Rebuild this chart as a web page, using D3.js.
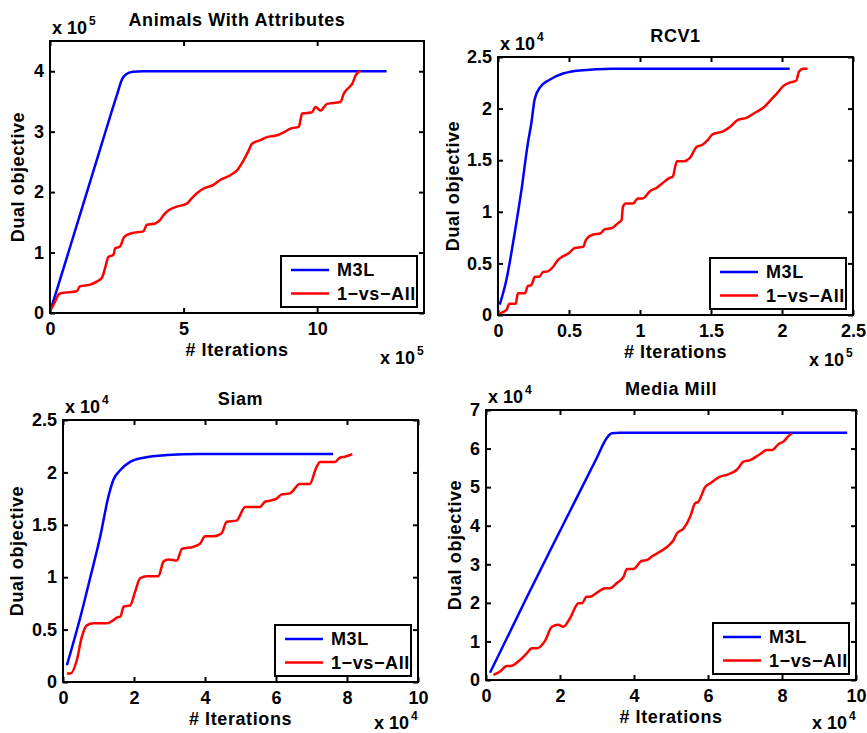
<!DOCTYPE html>
<html>
<head>
<meta charset="utf-8">
<script src="https://cdn.jsdelivr.net/npm/d3@7"></script>
<style>
  body { margin: 0; background: #fff; }
  svg text { font-family: "Liberation Sans", Arial, Helvetica, sans-serif; font-weight: bold; fill: #000; }
  .wide { letter-spacing: 0.6px; }
</style>
</head>
<body>
<svg width="867" height="733"></svg>
<script>
// ---- data: [x, y] pairs, x and y in axis units (before the "x 10^n" factor) ----
var seriesNames = ["M3L", "1\u2212vs\u2212All"];

var awaM3L = [[0,0.02],[0.5,0.73],[1,1.45],[1.5,2.17],[2,2.89],[2.5,3.6],[2.7,3.87],[2.85,3.95],[3.1,3.99],[3.5,4.0],[12.6,4.0]];
var awaOva = [[0,0.03],[0.19,0.19],[0.31,0.30],[0.44,0.33],[1.0,0.36],[1.12,0.44],[1.5,0.47],[1.75,0.52],[1.94,0.58],[2.06,0.74],
  [2.19,0.93],[2.37,0.96],[2.44,1.07],[2.62,1.10],[2.78,1.26],[3.06,1.32],[3.5,1.35],[3.62,1.46],[3.94,1.48],[4.12,1.54],
  [4.25,1.62],[4.44,1.70],[4.75,1.76],[5.12,1.81],[5.31,1.90],[5.5,1.98],[5.75,2.06],[6.12,2.12],[6.37,2.20],[6.75,2.28],
  [7.0,2.36],[7.25,2.53],[7.44,2.69],[7.56,2.80],[7.87,2.86],[8.12,2.91],[8.5,2.94],[8.75,2.99],[9.0,3.05],[9.31,3.08],
  [9.44,3.30],[9.81,3.32],[9.94,3.41],[10.12,3.35],[10.37,3.46],[10.87,3.49],[11.0,3.63],[11.19,3.73],[11.31,3.79],[11.44,3.93],[11.62,4.01]];

var rcvM3L = [[0.012,0.10],[0.059,0.34],[0.117,0.79],[0.164,1.2],[0.211,1.67],[0.235,1.86],[0.258,2.09],[0.293,2.2],[0.364,2.28],
  [0.458,2.34],[0.575,2.37],[0.81,2.385],[2.054,2.385]];
var rcvOva = [[0.012,0.016],[0.06,0.05],[0.08,0.11],[0.125,0.11],[0.14,0.21],[0.19,0.21],[0.21,0.28],[0.235,0.29],[0.26,0.37],
  [0.29,0.37],[0.32,0.42],[0.34,0.42],[0.39,0.47],[0.42,0.53],[0.46,0.57],[0.50,0.60],[0.54,0.65],[0.60,0.66],[0.62,0.73],
  [0.67,0.78],[0.72,0.79],[0.75,0.83],[0.80,0.84],[0.845,0.89],[0.87,0.92],[0.88,1.05],[0.90,1.08],[0.95,1.08],[0.985,1.13],
  [1.02,1.13],[1.07,1.20],[1.115,1.23],[1.16,1.28],[1.21,1.33],[1.23,1.34],[1.26,1.49],[1.31,1.49],[1.35,1.52],[1.40,1.63],
  [1.44,1.65],[1.48,1.70],[1.51,1.75],[1.585,1.78],[1.64,1.83],[1.69,1.89],[1.75,1.91],[1.81,1.96],[1.87,2.01],[1.925,2.09],
  [1.96,2.14],[2.01,2.22],[2.05,2.25],[2.10,2.27],[2.12,2.36],[2.15,2.385],[2.18,2.385]];

var siamM3L = [[0.11,0.16],[0.49,0.62],[0.77,1.0],[1.05,1.39],[1.28,1.77],[1.42,1.93],[1.61,2.02],[1.89,2.10],[2.27,2.14],
  [2.92,2.165],[3.86,2.175],[7.61,2.175]];
var siamOva = [[0.11,0.08],[0.21,0.08],[0.39,0.21],[0.53,0.43],[0.67,0.54],[0.86,0.56],[1.24,0.56],[1.42,0.59],[1.56,0.62],
  [1.61,0.62],[1.71,0.72],[1.89,0.73],[2.03,0.86],[2.17,0.99],[2.36,1.01],[2.69,1.01],[2.83,1.15],[2.97,1.17],[3.21,1.16],
  [3.35,1.27],[3.67,1.29],[3.86,1.32],[4.0,1.39],[4.24,1.39],[4.47,1.42],[4.61,1.53],[4.89,1.54],[5.13,1.67],[5.55,1.67],
  [5.69,1.72],[5.83,1.73],[6.02,1.75],[6.16,1.79],[6.39,1.80],[6.67,1.89],[6.95,1.89],[7.14,2.05],[7.24,2.10],[7.66,2.10],
  [7.80,2.14],[7.94,2.15],[8.15,2.175]];

var mmM3L = [[0.11,0.19],[1.1,2.14],[2.05,3.96],[3.0,5.77],[3.26,6.27],[3.40,6.40],[3.62,6.41],[9.76,6.41]];
var mmOva = [[0.2,0.13],[0.38,0.22],[0.56,0.36],[0.65,0.36],[0.92,0.52],[1.1,0.69],[1.24,0.82],[1.37,0.82],[1.6,1.02],
  [1.78,1.38],[1.96,1.43],[2.09,1.38],[2.27,1.6],[2.5,1.99],[2.59,1.99],[2.72,2.16],[2.81,2.16],[2.99,2.26],[3.22,2.38],
  [3.35,2.38],[3.53,2.51],[3.72,2.68],[3.81,2.88],[3.99,2.88],[4.21,3.09],[4.35,3.11],[4.48,3.2],[4.71,3.33],[4.93,3.48],
  [5.07,3.63],[5.16,3.80],[5.34,3.93],[5.52,4.24],[5.65,4.58],[5.74,4.62],[5.92,5.0],[6.06,5.1],[6.33,5.27],[6.51,5.32],
  [6.78,5.45],[6.96,5.66],[7.14,5.70],[7.41,5.86],[7.59,5.96],[7.73,5.96],[7.91,6.12],[8.04,6.18],[8.18,6.33],[8.27,6.39]];

// ---- tick labels ----
var awaXTicks = [0, 5, 10],  awaYTicks = [0, 1, 2, 3, 4];
var rcvXTicks = [0, 0.5, 1, 1.5, 2, 2.5], rcvYTicks = [0, 0.5, 1, 1.5, 2, 2.5];
var siamXTicks = [0, 2, 4, 6, 8, 10], siamYTicks = [0, 0.5, 1, 1.5, 2, 2.5];
var mmXTicks = [0, 2, 4, 6, 8, 10], mmYTicks = [0, 1, 2, 3, 4, 5, 6, 7];

var colors = ["#0000ff", "#ff0000"];

// ---- layout of the four panels ----
var panels = [
  {title: "Animals With Attributes", box: [50, 41, 424, 313], xd: [0, 14], yd: [0, 4.5],
   xt: awaXTicks, yt: awaYTicks, xe: "5", ye: "5", yl: 26, series: [awaM3L, awaOva]},
  {title: "RCV1", box: [498, 57, 853, 315], xd: [0, 2.5], yd: [0, 2.5],
   xt: rcvXTicks, yt: rcvYTicks, xe: "5", ye: "4", yl: 39, series: [rcvM3L, rcvOva]},
  {title: "Siam", box: [63, 420, 418, 682], xd: [0, 10], yd: [0, 2.5],
   xt: siamXTicks, yt: siamYTicks, xe: "4", ye: "4", yl: 40, series: [siamM3L, siamOva]},
  {title: "Media Mill", box: [486, 410, 856, 680], xd: [0, 10], yd: [0, 7],
   xt: mmXTicks, yt: mmYTicks, xe: "4", ye: "4", yl: 25, series: [mmM3L, mmOva]}
];

var svg = d3.select("svg");
var fmt = function(d) { return String(d); };

panels.forEach(function(p) {
  var L = p.box[0], T = p.box[1], R = p.box[2], B = p.box[3];
  var x = d3.scaleLinear().domain(p.xd).range([L, R]),
      y = d3.scaleLinear().domain(p.yd).range([B, T]);
  var g = svg.append("g");

  // ticks on all four sides, pointing inwards
  g.append("g").attr("transform", "translate(0," + B + ")")
      .call(d3.axisBottom(x).tickValues(p.xt).tickFormat(fmt).tickSize(-5).tickPadding(9));
  g.append("g").attr("transform", "translate(0," + T + ")")
      .call(d3.axisTop(x).tickValues(p.xt).tickFormat("").tickSize(-5));
  g.append("g").attr("transform", "translate(" + L + ",0)")
      .call(d3.axisLeft(y).tickValues(p.yt).tickFormat(fmt).tickSize(-5).tickPadding(6));
  g.append("g").attr("transform", "translate(" + R + ",0)")
      .call(d3.axisRight(y).tickValues(p.yt).tickFormat("").tickSize(-5));
  g.selectAll(".domain").remove();
  g.selectAll(".tick line").attr("stroke", "#000").attr("stroke-width", 2);
  g.selectAll(".tick text").style("font-size", "18px").attr("fill", "#000");

  var line = d3.line()
      .x(function(d) { return x(d[0]); })
      .y(function(d) { return y(d[1]); })
      .curve(d3.curveMonotoneX);

  p.series.forEach(function(s, i) {
    g.append("path").datum(s)
        .attr("d", line)
        .attr("fill", "none")
        .attr("stroke", colors[i])
        .attr("stroke-width", 2.5)
        .attr("stroke-linejoin", "round");
  });

  g.append("rect")
      .attr("x", L).attr("y", T).attr("width", R - L).attr("height", B - T)
      .attr("fill", "none").attr("stroke", "#000").attr("stroke-width", 2);

  // title, labels, exponent factors
  g.append("text").attr("class", "wide").attr("x", (L + R) / 2).attr("y", T - 15)
      .attr("text-anchor", "middle").style("font-size", "18px").text(p.title);
  g.append("text").attr("class", "wide").attr("x", (L + R) / 2).attr("y", B + 43)
      .attr("text-anchor", "middle").style("font-size", "18px").text("# Iterations");
  g.append("text").attr("class", "wide")
      .attr("transform", "translate(" + (L - p.yl) + "," + ((T + B) / 2) + ") rotate(-90)")
      .attr("text-anchor", "middle").style("font-size", "18px").text("Dual objective");

  var ye = g.append("text").attr("x", L + 2).attr("y", T - 7).style("font-size", "18px");
  ye.append("tspan").text("x 10");
  ye.append("tspan").attr("dx", 2).attr("dy", -9).style("font-size", "12px").text(p.ye);

  var xe = g.append("text").attr("x", R - 44).attr("y", Math.min(B + 51, 729)).style("font-size", "18px");
  xe.append("tspan").text("x 10");
  xe.append("tspan").attr("dx", 2).attr("dy", -9).style("font-size", "12px").text(p.xe);

  // legend
  var lw = 136, lh = 51, lx = R - 7 - lw, ly = B - 6 - lh;
  var lg = g.append("g").attr("transform", "translate(" + lx + "," + ly + ")");
  lg.append("rect").attr("width", lw).attr("height", lh)
      .attr("fill", "#fff").attr("stroke", "#000").attr("stroke-width", 2);
  seriesNames.forEach(function(name, i) {
    var yy = 14 + i * 23.5;
    lg.append("line").attr("x1", 10).attr("x2", 48).attr("y1", yy).attr("y2", yy)
        .attr("stroke", colors[i]).attr("stroke-width", 2.5);
    lg.append("text").attr("class", "wide").attr("x", 56).attr("y", yy).attr("dy", "0.35em")
        .style("font-size", "18px").text(name);
  });
});
</script>
</body>
</html>
